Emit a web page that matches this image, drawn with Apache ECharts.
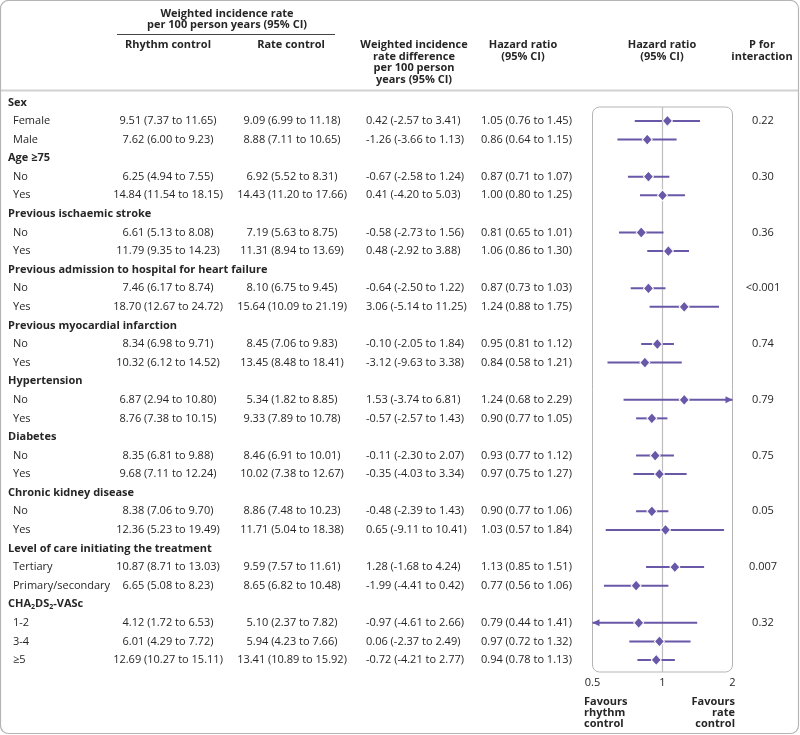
<!DOCTYPE html>
<html><head><meta charset="utf-8">
<script src="https://cdn.jsdelivr.net/npm/echarts@6/dist/echarts.min.js"></script>
<style>html,body{margin:0;padding:0;background:#fff}#c{width:800px;height:735px}</style>
</head><body><div id="c"></div><script>
// ---------------- DATA ----------------
const rowLabels = [
  "Sex","Female","Male",
  "Age ≥75","No","Yes",
  "Previous ischaemic stroke","No","Yes",
  "Previous admission to hospital for heart failure","No","Yes",
  "Previous myocardial infarction","No","Yes",
  "Hypertension","No","Yes",
  "Diabetes","No","Yes",
  "Chronic kidney disease","No","Yes",
  "Level of care initiating the treatment","Tertiary","Primary/secondary",
  "CHA2DS2-VASc","1-2","3-4","≥5"
];
// weighted incidence rate per 100 person years [estimate, lower, upper]; null = group heading row
const rhythmRate = [
  null,[9.51,7.37,11.65],[7.62,6.00,9.23],
  null,[6.25,4.94,7.55],[14.84,11.54,18.15],
  null,[6.61,5.13,8.08],[11.79,9.35,14.23],
  null,[7.46,6.17,8.74],[18.70,12.67,24.72],
  null,[8.34,6.98,9.71],[10.32,6.12,14.52],
  null,[6.87,2.94,10.80],[8.76,7.38,10.15],
  null,[8.35,6.81,9.88],[9.68,7.11,12.24],
  null,[8.38,7.06,9.70],[12.36,5.23,19.49],
  null,[10.87,8.71,13.03],[6.65,5.08,8.23],
  null,[4.12,1.72,6.53],[6.01,4.29,7.72],[12.69,10.27,15.11]
];
const rateRate = [
  null,[9.09,6.99,11.18],[8.88,7.11,10.65],
  null,[6.92,5.52,8.31],[14.43,11.20,17.66],
  null,[7.19,5.63,8.75],[11.31,8.94,13.69],
  null,[8.10,6.75,9.45],[15.64,10.09,21.19],
  null,[8.45,7.06,9.83],[13.45,8.48,18.41],
  null,[5.34,1.82,8.85],[9.33,7.89,10.78],
  null,[8.46,6.91,10.01],[10.02,7.38,12.67],
  null,[8.86,7.48,10.23],[11.71,5.04,18.38],
  null,[9.59,7.57,11.61],[8.65,6.82,10.48],
  null,[5.10,2.37,7.82],[5.94,4.23,7.66],[13.41,10.89,15.92]
];
const rateDiff = [
  null,[0.42,-2.57,3.41],[-1.26,-3.66,1.13],
  null,[-0.67,-2.58,1.24],[0.41,-4.20,5.03],
  null,[-0.58,-2.73,1.56],[0.48,-2.92,3.88],
  null,[-0.64,-2.50,1.22],[3.06,-5.14,11.25],
  null,[-0.10,-2.05,1.84],[-3.12,-9.63,3.38],
  null,[1.53,-3.74,6.81],[-0.57,-2.57,1.43],
  null,[-0.11,-2.30,2.07],[-0.35,-4.03,3.34],
  null,[-0.48,-2.39,1.43],[0.65,-9.11,10.41],
  null,[1.28,-1.68,4.24],[-1.99,-4.41,0.42],
  null,[-0.97,-4.61,2.66],[0.06,-2.37,2.49],[-0.72,-4.21,2.77]
];
const hazardRatio = [
  null,[1.05,0.76,1.45],[0.86,0.64,1.15],
  null,[0.87,0.71,1.07],[1.00,0.80,1.25],
  null,[0.81,0.65,1.01],[1.06,0.86,1.30],
  null,[0.87,0.73,1.03],[1.24,0.88,1.75],
  null,[0.95,0.81,1.12],[0.84,0.58,1.21],
  null,[1.24,0.68,2.29],[0.90,0.77,1.05],
  null,[0.93,0.77,1.12],[0.97,0.75,1.27],
  null,[0.90,0.77,1.06],[1.03,0.57,1.84],
  null,[1.13,0.85,1.51],[0.77,0.56,1.06],
  null,[0.79,0.44,1.41],[0.97,0.72,1.32],[0.94,0.78,1.13]
];
const pInteraction = [
  null,"0.22",null,
  null,"0.30",null,
  null,"0.36",null,
  null,"<0.001",null,
  null,"0.74",null,
  null,"0.79",null,
  null,"0.75",null,
  null,"0.05",null,
  null,"0.007",null,
  null,"0.32",null,null
];
const hrTicks = [0.5, 1, 2];

// ---------------- LAYOUT / STYLE ----------------
const FONT = "'Open Sans', sans-serif";
const TXT = '#262626';
const PURPLE = '#6957a8';
const ROW0 = 102.4, ROWH = 18.586;
const PLOT_TOP = 107, PLOT_BOT = 672;
const Y_MIN = (PLOT_TOP - ROW0) / ROWH, Y_MAX = (PLOT_BOT - ROW0) / ROWH;
const PLOT_L = 592.5, PLOT_R = 732.5;
const X_MIN = hrTicks[0], X_MAX = hrTicks[hrTicks.length - 1];

const fmt = v => v.toFixed(2);
const fmtCI = a => a ? `${fmt(a[0])} (${fmt(a[1])} to ${fmt(a[2])})` : null;
const isHead = rhythmRate.map(v => v === null);

function textCol(x, texts, align, bold, rich) {
  const idx = [];
  texts.forEach((t, i) => { if (t != null) idx.push(i); });
  return {
    type: 'custom', xAxisIndex: 0, yAxisIndex: 0, silent: true, z: 5,
    data: idx.map(i => [x, i]), encode: { x: 0, y: 1 },
    renderItem: (p, api) => {
      const i = idx[p.dataIndex];
      const pt = api.coord([x, i]);
      const st = {
        text: texts[i], align: align, verticalAlign: 'middle', fill: TXT,
        fontFamily: FONT, fontSize: 11, fontWeight: bold ? 'bold' : 'normal'
      };
      if (rich && rich[i]) { st.text = rich[i].text; st.rich = rich[i].rich; }
      return { type: 'text', x: pt[0], y: pt[1], style: st };
    }
  };
}

const headLabels = rowLabels.map((l, i) => isHead[i] ? l : null);
const subLabels = rowLabels.map((l, i) => isHead[i] ? null : l);
const richMap = {};
rowLabels.forEach((l, i) => {
  if (l === 'CHA2DS2-VASc') {
    richMap[i] = {
      text: '{b|CHA}{s|2}{b|DS}{s|2}{b|-VASc}',
      rich: {
        b: { fontFamily: FONT, fontSize: 11, fontWeight: 'bold', fill: TXT, color: TXT },
        s: { fontFamily: FONT, fontSize: 7, fontWeight: 'bold', fill: TXT, color: TXT, padding: [6, 0, 0, 0] }
      }
    };
  }
});

const hrIdx = [];
hazardRatio.forEach((v, i) => { if (v) hrIdx.push(i); });

function hText(x, y, text, opts) {
  return {
    type: 'text', x: x, y: y, silent: true,
    style: Object.assign({
      text: text, fill: TXT, fontFamily: FONT, fontSize: 11, fontWeight: 'bold',
      align: 'center', verticalAlign: 'top', lineHeight: 11.9
    }, opts || {})
  };
}

const option = {
  animation: false,
  backgroundColor: '#ffffff',
  grid: [
    { left: 0, right: 0, top: PLOT_TOP, height: PLOT_BOT - PLOT_TOP, show: false },
    { left: PLOT_L, width: PLOT_R - PLOT_L, top: PLOT_TOP, height: PLOT_BOT - PLOT_TOP, show: false }
  ],
  xAxis: [
    { gridIndex: 0, type: 'value', min: 0, max: 800, show: false },
    {
      gridIndex: 1, type: 'log', logBase: 2, min: X_MIN, max: X_MAX, interval: 1,
      axisLine: { show: false }, axisTick: { show: false }, splitLine: { show: false },
      axisLabel: {
        color: TXT, fontFamily: FONT, fontSize: 11, margin: 5,
        formatter: v => String(+v.toFixed(2)), showMinLabel: true, showMaxLabel: true
      }
    }
  ],
  yAxis: [
    { gridIndex: 0, type: 'value', inverse: true, min: Y_MIN, max: Y_MAX, show: false },
    { gridIndex: 1, type: 'value', inverse: true, min: Y_MIN, max: Y_MAX, show: false }
  ],
  graphic: [
    { type: 'rect', silent: true, z: -1, shape: { x: 0.5, y: 0.5, width: 798, height: 733, r: 8 },
      style: { fill: 'none', stroke: '#b5b5b5', lineWidth: 1.2 } },
    { type: 'line', silent: true, shape: { x1: 1, y1: 90.5, x2: 798, y2: 90.5 },
      style: { stroke: '#d2d2d2', lineWidth: 2 } },
    { type: 'line', silent: true, shape: { x1: 117, y1: 34.5, x2: 335, y2: 34.5 },
      style: { stroke: '#444', lineWidth: 1 } },
    { type: 'rect', silent: true, z: -1,
      shape: { x: PLOT_L, y: PLOT_TOP, width: PLOT_R - PLOT_L, height: PLOT_BOT - PLOT_TOP, r: 7 },
      style: { fill: 'none', stroke: '#b5b5b5', lineWidth: 1 } },
    hText(227, 8.2, 'Weighted incidence rate\nper 100 person years (95% CI)', { lineHeight: 11.3 }),
    hText(168, 38.6, 'Rhythm control'),
    hText(291, 38.6, 'Rate control'),
    hText(414, 38.6, 'Weighted incidence\nrate difference\nper 100 person\nyears (95% CI)'),
    hText(523, 38.6, 'Hazard ratio\n(95% CI)'),
    hText(662, 38.6, 'Hazard ratio\n(95% CI)'),
    hText(762, 38.6, 'P for\ninteraction'),
    hText(584, 696.5, 'Favours\nrhythm\ncontrol', { align: 'left', lineHeight: 11 }),
    hText(735, 696.5, 'Favours\nrate\ncontrol', { align: 'right', lineHeight: 11 })
  ],
  series: [
    textCol(8, headLabels, 'left', true, richMap),
    textCol(13, subLabels, 'left', false),
    textCol(168, rhythmRate.map(fmtCI), 'center', false),
    textCol(292, rateRate.map(fmtCI), 'center', false),
    textCol(366, rateDiff.map(fmtCI), 'left', false),
    textCol(481, hazardRatio.map(fmtCI), 'left', false),
    textCol(763, pInteraction, 'center', false),
    {
      type: 'custom', xAxisIndex: 1, yAxisIndex: 1, silent: true, z: 3, clip: false,
      data: hrIdx.map(i => [hazardRatio[i][1], hazardRatio[i][2], i]),
      encode: { x: [0, 1], y: 2 },
      renderItem: (p, api) => {
        const lo = api.value(0), hi = api.value(1), r = api.value(2);
        const a = api.coord([Math.max(lo, X_MIN), r]);
        const b = api.coord([Math.min(hi, X_MAX), r]);
        const children = [{
          type: 'line', shape: { x1: a[0], y1: a[1], x2: b[0], y2: b[1] },
          style: { stroke: PURPLE, lineWidth: 2 }
        }];
        if (lo < X_MIN) children.push({ type: 'polygon',
          shape: { points: [[a[0], a[1]], [a[0] + 7, a[1] - 3.5], [a[0] + 7, a[1] + 3.5]] },
          style: { fill: PURPLE } });
        if (hi > X_MAX) children.push({ type: 'polygon',
          shape: { points: [[b[0], b[1]], [b[0] - 7, b[1] - 3.5], [b[0] - 7, b[1] + 3.5]] },
          style: { fill: PURPLE } });
        return { type: 'group', children };
      }
    },
    {
      type: 'scatter', xAxisIndex: 1, yAxisIndex: 1, silent: true, z: 4,
      symbol: 'diamond', symbolSize: [10, 11],
      itemStyle: { color: PURPLE, borderColor: '#ffffff', borderWidth: 1, opacity: 1 },
      data: hrIdx.map(i => [hazardRatio[i][0], i]),
      markLine: {
        silent: true, symbol: 'none', label: { show: false }, z: 1,
        lineStyle: { color: '#bdbdbd', type: 'solid', width: 1.2 },
        data: [{ xAxis: 1 }]
      }
    }
  ]
};
const chart = echarts.init(document.getElementById('c'), null, { renderer: 'canvas' });
chart.setOption(option);
</script></body></html>
